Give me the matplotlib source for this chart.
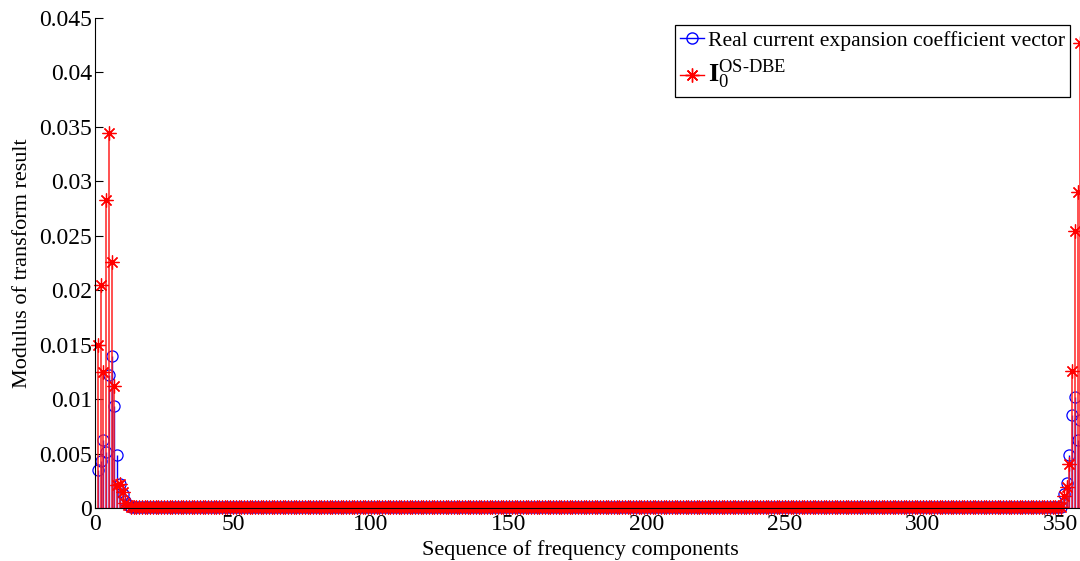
import matplotlib
matplotlib.use("Agg")
import matplotlib.pyplot as plt
from matplotlib.lines import Line2D
import numpy as np

plt.rcParams['font.family'] = ['Liberation Serif', 'DejaVu Serif']
plt.rcParams['mathtext.fontset'] = 'custom'
plt.rcParams['mathtext.rm'] = 'Liberation Serif'
plt.rcParams['mathtext.bf'] = 'Liberation Serif:bold'
plt.rcParams['mathtext.it'] = 'Liberation Serif:italic'

# ---- data ----
left_blue = [0.0035, 0.0043, 0.0062, 0.0051, 0.0122, 0.0140, 0.0094, 0.0049,
             0.0022, 0.0013, 0.0006, 0.0003]
left_red = [0.0150, 0.0205, 0.0125, 0.0283, 0.0344, 0.0226, 0.0112, 0.0021,
            0.0022, 0.0015, 0.0005, 0.0003]
mid_blue = [0.0001] * 338
mid_red = [0.0001] * 338
right_blue = [0.0013, 0.0023, 0.0049, 0.0085, 0.0102, 0.0062, 0.0081]
right_red = [0.0011, 0.0019, 0.0040, 0.0126, 0.0254, 0.0290, 0.0427]

blue_vals = left_blue + mid_blue + right_blue
red_vals = left_red + mid_red + right_red
index = list(range(1, len(blue_vals) + 1))

xticks = [0, 50, 100, 150, 200, 250, 300, 350]
yticks = [0, 0.005, 0.01, 0.015, 0.02, 0.025, 0.03, 0.035, 0.04, 0.045]
ytick_labels = ['0', '0.005', '0.01', '0.015', '0.02', '0.025', '0.03',
                '0.035', '0.04', '0.045']

legend_labels = ['Real current expansion coefficient vector',
                 r'$\mathbf{I}_{0}^{\mathrm{OS}\text{-}\mathrm{DBE}}$']

# ---- figure ----
W, H = 1080, 561
fig = plt.figure(figsize=(W / 100, H / 100), dpi=100)
x0, x1 = 95, 95 + 360 * 2.76
y_top, y_bot = 18, 508
ax = fig.add_axes([x0 / W, 1 - y_bot / H, (x1 - x0) / W, (y_bot - y_top) / H])

star = (8, 2, 0)

ml, sl, bl = ax.stem(index, blue_vals, linefmt='b-', markerfmt='o', basefmt='b-')
ml.set_markerfacecolor('none')
ml.set_markeredgecolor('blue')
ml.set_markersize(8)
ml.set_markeredgewidth(0.9)
ml.set_clip_on(False)
sl.set_linewidth(1.0)
sl.set_color('blue')
bl.set_linewidth(0.8)

ml2, sl2, bl2 = ax.stem(index, red_vals, linefmt='r-', markerfmt='*', basefmt='r-')
ml2.set_marker(star)
ml2.set_markeredgecolor('red')
ml2.set_markerfacecolor('red')
ml2.set_markersize(10)
ml2.set_markeredgewidth(0.9)
ml2.set_clip_on(False)
sl2.set_linewidth(1.1)
sl2.set_color('#ff2020')
bl2.set_linewidth(0.8)

ax.set_xlim(0, 360)
ax.set_ylim(0, 0.045)
ax.set_xticks(xticks)
ax.set_xticklabels([str(t) for t in xticks])
ax.set_yticks(yticks)
ax.set_yticklabels(ytick_labels)
ax.tick_params(direction='in', length=6, width=0.8, labelsize=17, colors='black')
ax.tick_params(axis='x', pad=4)
ax.tick_params(axis='y', pad=2)
ax.spines['top'].set_visible(False)
ax.spines['right'].set_visible(False)
for s in ('left', 'bottom'):
    ax.spines[s].set_linewidth(0.8)

ax.set_xlabel('Sequence of frequency components', fontsize=16)
ax.xaxis.set_label_coords((580 - x0) / (x1 - x0), -0.065)
ax.set_ylabel('Modulus of transform result', fontsize=16)
ax.yaxis.set_label_coords(-(x0 - 32) / (x1 - x0), 0.5)

handles = [Line2D([], [], color='blue', marker='o', markerfacecolor='none',
                  markersize=8, lw=1.0, markevery=[1]),
           Line2D([], [], color='red', marker=star, markersize=10, lw=1.0,
                  markevery=[1])]
leg = fig.legend(handles, legend_labels, loc='upper right',
                 bbox_to_anchor=(1070 / W, 1 - 25 / H),
                 fontsize=15.6, frameon=True, fancybox=False, edgecolor='black',
                 framealpha=1, handlelength=1.1, handletextpad=0.15,
                 borderpad=0.25, labelspacing=0.35, borderaxespad=0)
leg.get_frame().set_linewidth(0.9)
leg.get_texts()[1].set_fontsize(19)

fig.savefig('out.png', dpi=100)
